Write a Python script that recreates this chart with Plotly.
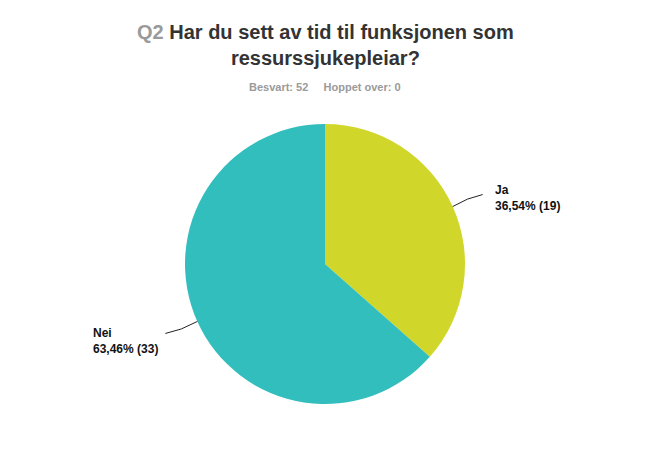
import math
import plotly.graph_objects as go

labels = ["Ja", "Nei"]
percents = [36.54, 63.46]
counts = [19, 33]
colors = ["#D0D72A", "#33BEBE"]

W, H = 650, 457
cx, cy, R = 325, 264, 140

fig = go.Figure(go.Pie(
    labels=labels, values=counts, sort=False, direction="clockwise", rotation=0,
    marker=dict(colors=colors, line=dict(width=0)),
    textinfo="none", hoverinfo="label+percent", showlegend=False,
    domain=dict(x=[(cx - R) / W, (cx + R) / W], y=[(H - cy - R) / H, (H - cy + R) / H]),
))

def px(x):
    return x / W

def py(y):
    return 1 - y / H

annotations = []
shapes = []
cum = 0.0
total = sum(counts)
for lab, pct, cnt in zip(labels, percents, counts):
    frac = cnt / total
    mid = (cum + frac / 2) * 2 * math.pi
    cum += frac
    sx = cx + R * math.sin(mid)
    sy = cy - R * math.cos(mid)
    right = math.sin(mid) >= 0
    ex = sx + (30 if right else -32)
    ey = sy + (-12 if right else 12)
    mx = sx + (ex - sx) * 0.5
    my = ey + (3 if right else -3)
    shapes.append(dict(type="path", xref="paper", yref="paper",
                       path=f"M {px(sx)},{py(sy)} Q {px(mx)},{py(my)} {px(ex)},{py(ey)}",
                       line=dict(color="#222", width=1)))
    txt = f"<b>{lab}<br>{str(pct).replace('.', ',')}% ({cnt})</b>"
    annotations.append(dict(
        x=px(ex + (10 if right else -5)), y=py(ey + (3 if right else 8)), xref="paper", yref="paper",
        text=txt, showarrow=False, align="left",
        xanchor="left" if right else "right", yanchor="middle",
        font=dict(family="Liberation Sans, Arial", size=12, color="#111")))

annotations.append(dict(
    x=0.5, y=py(45), xref="paper", yref="paper", showarrow=False, align="center",
    text="<b><span style='color:#9a9a9a'>Q2</span> Har du sett av tid til funksjonen som<br>ressurssjukepleiar?</b>",
    font=dict(family="Liberation Sans, Arial", size=20, color="#333"), yanchor="middle"))
annotations.append(dict(
    x=0.5, y=py(87), xref="paper", yref="paper", showarrow=False,
    text="<b>Besvart: 52&nbsp;&nbsp;&nbsp;&nbsp;&nbsp;Hoppet over: 0</b>",
    font=dict(family="Liberation Sans, Arial", size=11, color="#9a9a9a"), yanchor="middle"))

fig.update_layout(width=W, height=H, margin=dict(l=0, r=0, t=0, b=0),
                  paper_bgcolor="white", plot_bgcolor="white",
                  annotations=annotations, shapes=shapes)
fig.write_html("out.html")
